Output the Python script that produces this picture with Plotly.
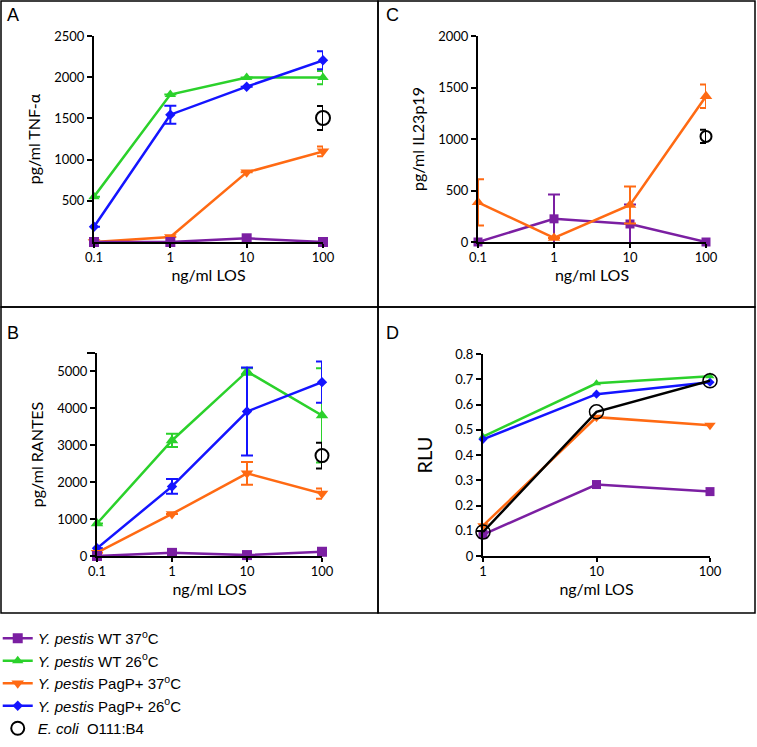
import plotly.graph_objects as go

W, H = 757, 747

# ---------------- data ----------------
los_abc = [0.1, 1, 10, 100]
los_d = [1, 10, 100]

# Panel A: TNF-alpha (pg/ml)
a_wt37 = [0, 0, 45, 0]
a_wt26 = [550, 1790, 1995, 1995]
a_wt26_err = [0, 0, 0, 80]
a_pag37 = [0, 60, 845, 1100]
a_pag37_err = [0, 0, 0, 60]
a_pag26 = [185, 1545, 1885, 2205]
a_pag26_err = [0, 110, 0, 110]
a_ecoli = [1505]
a_ecoli_err = [145]

# Panel B: RANTES (pg/ml)
b_wt37 = [0, 85, 25, 115]
b_wt26 = [880, 3130, 5000, 3810]
b_wt26_err = [0, 180, 90, 1280]
b_pag37 = [90, 1140, 2240, 1690]
b_pag37_err = [0, 0, 310, 140]
b_pag26 = [210, 1885, 3915, 4710]
b_pag26_err = [0, 200, 1190, 560]
b_ecoli = [2720]
b_ecoli_err = [350]

# Panel C: IL23p19 (pg/ml)
c_wt37 = [0, 225, 175, 0]
c_wt37_err = [0, 235, 190, 0]
c_pag37 = [385, 40, 360, 1415]
c_pag37_err = [225, 0, 180, 115]
c_ecoli = [1025]
c_ecoli_err = [65]

# Panel D: RLU
d_wt37 = [0.085, 0.283, 0.255]
d_wt26 = [0.473, 0.684, 0.712]
d_pag37 = [0.120, 0.550, 0.518]
d_pag26 = [0.462, 0.641, 0.688]
d_ecoli = [0.095, 0.571, 0.694]

names = ["<i>Y. pestis</i> WT 37<sup>o</sup>C",
         "<i>Y. pestis</i> WT 26<sup>o</sup>C",
         "<i>Y. pestis</i> PagP+ 37<sup>o</sup>C",
         "<i>Y. pestis</i> PagP+ 26<sup>o</sup>C",
         "<i>E. coli</i>\u00a0\u00a0O111:B4"]

PURPLE = "#7b1fa2"
GREEN = "#2bd12b"
ORANGE = "#ff6a13"
BLUE = "#1414ff"
BLACK = "#000000"

fig = go.Figure()


def px_dom_x(a, b):
    return [a / W, b / W]


def px_dom_y(top, bottom):
    return [1 - bottom / H, 1 - top / H]


def add(xs, ys, color, symbol, size, xa, ya, name, rank, show, err=None,
        mode="lines+markers", lw=2.5, opensym=False, olw=2):
    ed = None
    if err is not None:
        ed = dict(type="data", array=err, color=color, thickness=2, width=6,
                  visible=True)
    fig.add_trace(go.Scatter(
        x=xs, y=ys, mode=mode, name=name, legendgroup="g%d" % rank,
        legendrank=rank, showlegend=show,
        line=dict(color=color, width=lw),
        marker=dict(symbol=symbol, size=size, color=color,
                    line=dict(color=color, width=olw if opensym else 0)),
        error_y=ed, xaxis=xa, yaxis=ya, cliponaxis=False))


# Panel A
add(los_abc, a_wt26, GREEN, "triangle-up", 10, "x", "y", names[1], 2, True, a_wt26_err)
add(los_abc, a_pag26, BLUE, "diamond", 8, "x", "y", names[3], 4, False, a_pag26_err)
add(los_abc, a_pag37, ORANGE, "triangle-down", 11, "x", "y", names[2], 3, True, a_pag37_err)
add(los_abc, a_wt37, PURPLE, "square", 10, "x", "y", names[0], 1, True)
add([100], a_ecoli, BLACK, "circle-open", 14, "x", "y", names[4], 5, False, a_ecoli_err,
    mode="markers", opensym=True)

# Panel B
add(los_abc, b_wt26, GREEN, "triangle-up", 11, "x2", "y2", names[1], 2, False, b_wt26_err)
add(los_abc, b_pag26, BLUE, "diamond", 8, "x2", "y2", names[3], 4, True, b_pag26_err)
add(los_abc, b_pag37, ORANGE, "triangle-down", 11, "x2", "y2", names[2], 3, False, b_pag37_err)
add(los_abc, b_wt37, PURPLE, "square", 10, "x2", "y2", names[0], 1, False)
add([100], b_ecoli, BLACK, "circle-open", 13, "x2", "y2", names[4], 5, True, b_ecoli_err,
    mode="markers", opensym=True)

# Panel C
add(los_abc, c_wt37, PURPLE, "square", 9, "x3", "y3", names[0], 1, False, c_wt37_err)
add(los_abc, c_pag37, ORANGE, "triangle-up", 11, "x3", "y3", names[2], 3, False, c_pag37_err)
add([100], c_ecoli, BLACK, "circle-open", 11, "x3", "y3", names[4], 5, False, c_ecoli_err,
    mode="markers", opensym=True)

# Panel D
add(los_d, d_wt26, GREEN, "triangle-up", 8, "x4", "y4", names[1], 2, False)
add(los_d, d_pag26, BLUE, "diamond", 7, "x4", "y4", names[3], 4, False)
add(los_d, d_pag37, ORANGE, "triangle-down", 10, "x4", "y4", names[2], 3, False)
add(los_d, d_wt37, PURPLE, "square", 9, "x4", "y4", names[0], 1, False)
add(los_d, d_ecoli, BLACK, "circle-open", 14, "x4", "y4", names[4], 5, False,
    opensym=True, lw=2.5, olw=1.5)

TICKF = dict(family="Lato, Open Sans, sans-serif", size=13, color="black")
TITLEF = dict(family="Lato, Open Sans, sans-serif", size=16, color="black")

common_x = dict(type="log", showline=True, linecolor="black", linewidth=2,
                ticks="outside", ticklen=4, tickwidth=2, tickcolor="black",
                showgrid=False, zeroline=False, tickfont=TICKF, automargin=False,
                ticklabelstandoff=-2,
                title=dict(text="ng/ml LOS", font=TITLEF, standoff=4))
common_y = dict(showline=True, linecolor="black", linewidth=2,
                ticks="outside", ticklen=5, tickwidth=2, tickcolor="black",
                showgrid=False, zeroline=False, tickfont=TICKF, automargin=False)

fig.update_layout(
    width=W, height=H, margin=dict(l=0, r=0, t=0, b=0, autoexpand=False),
    plot_bgcolor="white", paper_bgcolor="white",
    xaxis=dict(common_x, domain=px_dom_x(94, 323), range=[-1, 2], anchor="y",
               tickvals=los_abc, ticktext=["0.1", "1", "10", "100"]),
    yaxis=dict(common_y, domain=px_dom_y(36, 242), range=[0, 2500], anchor="x",
               tickvals=[500, 1000, 1500, 2000, 2500],
               title=dict(text="pg/ml TNF-α", font=TITLEF, standoff=10)),
    xaxis2=dict(common_x, domain=px_dom_x(97, 322), range=[-1, 2], anchor="y2",
                tickvals=los_abc, ticktext=["0.1", "1", "10", "100"]),
    yaxis2=dict(common_y, domain=px_dom_y(353, 556), range=[0, 5500], anchor="x2",
                tickvals=[0, 1000, 2000, 3000, 4000, 5000],
                minor=dict(tickvals=[5500], ticks="outside", ticklen=8,
                           tickwidth=2, tickcolor="black", showgrid=False),
                title=dict(text="pg/ml RANTES", font=TITLEF, standoff=10)),
    xaxis3=dict(common_x, domain=px_dom_x(478, 706), range=[-1, 2], anchor="y3",
                tickvals=los_abc, ticktext=["0.1", "1", "10", "100"]),
    yaxis3=dict(common_y, domain=px_dom_y(36, 242), range=[0, 2000], anchor="x3",
                tickvals=[0, 500, 1000, 1500, 2000],
                title=dict(text="pg/ml IL23p19", font=TITLEF, standoff=10)),
    xaxis4=dict(common_x, domain=px_dom_x(483, 710), range=[0, 2], anchor="y4",
                tickvals=los_d, ticktext=["1", "10", "100"]),
    yaxis4=dict(common_y, domain=px_dom_y(354, 556), range=[0, 0.8], anchor="x4",
                tickvals=[0, 0.1, 0.2, 0.3, 0.4, 0.5, 0.6, 0.7, 0.8],
                ticktext=["0", "0.1", "0.2", "0.3", "0.4", "0.5", "0.6", "0.7", "0.8"],
                title=dict(text="RLU", font=dict(TITLEF, size=20), standoff=17)),
    legend=dict(x=-0.003, y=1 - 622 / H, xanchor="left", yanchor="top",
                font=dict(family="Liberation Sans, Arial, sans-serif", size=15, color="black"),
                bgcolor="rgba(0,0,0,0)", tracegroupgap=0, traceorder="normal",
                itemwidth=30),
    showlegend=True,
)

# panel borders
def rect(x0, y0, x1, y1):
    fig.add_shape(type="rect", xref="paper", yref="paper",
                  x0=x0 / W, x1=x1 / W, y0=1 - y1 / H, y1=1 - y0 / H,
                  line=dict(color="black", width=1.5), fillcolor="rgba(0,0,0,0)")

rect(1, 1, 378, 307)
rect(378, 1, 755, 307)
rect(1, 307, 378, 613)
rect(378, 307, 755, 613)

LETF = dict(family="Liberation Sans, Arial, sans-serif", size=18, color="black")
for txt, x, y in [("A", 13, 15), ("C", 393, 15), ("B", 13, 333), ("D", 393, 333)]:
    fig.add_annotation(text=txt, x=x / W, y=1 - y / H, xref="paper", yref="paper",
                       showarrow=False, font=LETF, xanchor="center", yanchor="middle")

fig.write_html("out.html", config={"displayModeBar": False},
               post_script="document.body.style.margin='0';document.body.style.overflow='hidden';")
